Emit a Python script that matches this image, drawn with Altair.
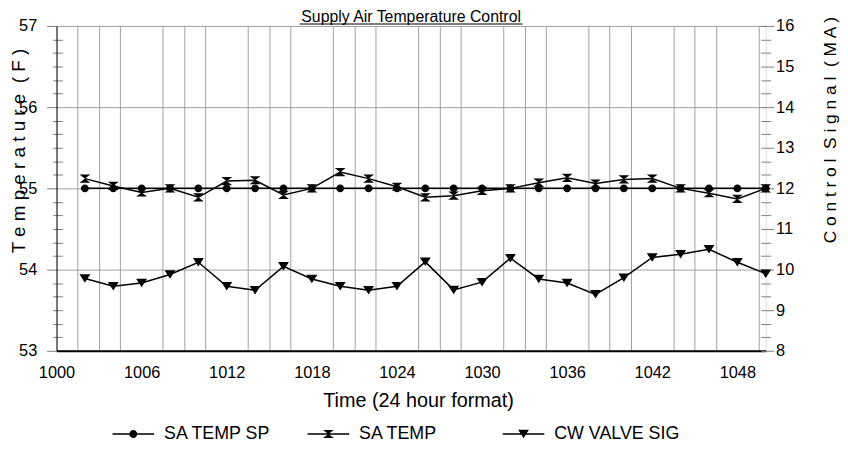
import altair as alt
import pandas as pd

FONT = "Liberation Sans"

# ---- data ----
times = [1002, 1004, 1006, 1008, 1010, 1012, 1014, 1016, 1018, 1020, 1022, 1024, 1026,
         1028, 1030, 1032, 1034, 1036, 1038, 1040, 1042, 1044, 1046, 1048, 1050]
sa_temp_sp = [55.0, 55.0, 55.0, 55.0, 55.0, 55.0, 55.0, 55.0, 55.0, 55.0, 55.0, 55.0, 55.0,
              55.0, 55.0, 55.0, 55.0, 55.0, 55.0, 55.0, 55.0, 55.0, 55.0, 55.0, 55.0]
sa_temp = [55.12, 55.03, 54.95, 55.0, 54.89, 55.09, 55.10, 54.92, 55.0, 55.20, 55.12, 55.02, 54.89,
           54.91, 54.97, 55.0, 55.07, 55.13, 55.06, 55.11, 55.12, 55.0, 54.94, 54.87, 55.0]
cw_valve_sig = [9.78, 9.59, 9.67, 9.88, 10.18, 9.59, 9.49, 10.08, 9.77, 9.59, 9.49, 9.59, 10.19,
                9.50, 9.69, 10.28, 9.77, 9.67, 9.39, 9.80, 10.30, 10.38, 10.50, 10.18, 9.90]
series_names = ["SA TEMP SP", "SA TEMP", "CW VALVE SIG"]
chart_title = "Supply Air Temperature Control"

x_label_ticks = [1000, 1006, 1012, 1018, 1024, 1030, 1036, 1042, 1048]
x_domain = [1000, 1050]
temp_ticks = [53, 54, 55, 56, 57]
signal_ticks = [8, 9, 10, 11, 12, 13, 14, 15, 16]

# ---- tables ----
sp_df = pd.DataFrame({"time": times, "value": sa_temp_sp, "series": series_names[0]})
sat_df = pd.DataFrame({"time": times, "value": sa_temp, "series": series_names[1]})
cw_df = pd.DataFrame({"time": times, "value": cw_valve_sig, "series": series_names[2]})
temp_df = pd.concat([sp_df, sat_df], ignore_index=True)
legend_df = pd.DataFrame({"series": series_names})

# tick / grid positions
x_values = sorted(set([1000 + 1.5 * k for k in range(0, 34)] + x_label_ticks))
temp_major_values = [53 + 0.5 * k for k in range(0, 9)]
temp_minor_values = [53 + k / 6 for k in range(0, 25) if k % 6 != 0]
sig_minor_values = [8 + k / 3 for k in range(0, 25) if k % 3 != 0]

# ---- marker shapes ----
CIRCLE = "M0.73,0A0.73,0.73,0,1,1,-0.73,0A0.73,0.73,0,1,1,0.73,0Z"
HOURGLASS = "M-1,-0.75L1,-0.75L-1,0.75L1,0.75Z"
TRIANGLE = "M-1,-0.78L1,-0.78L0,0.78Z"

LINE_SEG = "M-1,-0.036L1,-0.036L1,0.036L-1,0.036Z"
LEG_CIRCLE = LINE_SEG + "M0.19,0A0.19,0.19,0,1,1,-0.19,0A0.19,0.19,0,1,1,0.19,0Z"
LEG_HOUR = LINE_SEG + "M-0.26,-0.19L0.26,-0.19L0,0ZM0,0L0.26,0.19L-0.26,0.19Z"
LEG_TRI = LINE_SEG + "M-0.26,-0.2L0.26,-0.2L0,0.2Z"

legend = alt.Legend(
    title=None, orient="none", legendX=55.5, legendY=390, direction="horizontal",
    columns=3, gridAlign="all", columnPadding=15, padding=0, symbolSize=1764,
    labelOffset=9, labelFont=FONT, labelFontSize=18, labelColor="black",
    symbolFillColor="black", symbolStrokeColor="black", symbolOpacity=1,
)

# ---- axes ----
x_axis = alt.Axis(
    values=x_values, format="d", title="Time (24 hour format)",
    labelExpr="(datum.value - 1000) % 6 === 0 ? datum.label : ''",
    labelFlush=False, labelOverlap=False, labelPadding=14, ticks=False,
    labelFont=FONT, labelFontSize=16.5, labelColor="black",
    domainColor="black", domainWidth=2,
    grid=True, gridColor="#a0a0a0", gridWidth=1,
    gridOpacity={"condition": {"test": "(datum.value - 1000) % 6 === 0", "value": 0}, "value": 1},
    titleFont=FONT, titleFontSize=20, titleFontWeight="normal", titleColor="black",
    titleX=365, titleY=56, titleBaseline="alphabetic", titleAlign="center",
)
X = alt.X("time:Q", scale=alt.Scale(domain=x_domain, nice=False, zero=False), axis=x_axis)

temp_scale = alt.Scale(domain=[temp_ticks[0], temp_ticks[-1]], nice=False, zero=False)
sig_scale = alt.Scale(domain=[signal_ticks[0], signal_ticks[-1]], nice=False, zero=False)

left_main = alt.Axis(
    orient="left", values=temp_major_values, format="d",
    labelExpr="datum.value % 1 === 0 ? datum.label : ''",
    tickSize=10, tickColor="#808080",
    tickOpacity={"condition": {"test": "datum.value % 1 !== 0", "value": 0}, "value": 1},
    labelPadding=10, labelFont=FONT, labelFontSize=16.5, labelColor="black",
    domainColor="black", domainWidth=1,
    grid=True, gridWidth=1,
    gridColor={"condition": {"test": "datum.value % 1 !== 0", "value": "#c8c8c8"}, "value": "#a0a0a0"},
    gridDash={"condition": {"test": "datum.value % 1 !== 0", "value": [2, 2]}, "value": []},
    title="T e m p e r a t u r e \u00a0( F )", titleFont=FONT, titleFontSize=19,
    titleFontWeight="normal", titleColor="black", titleAngle=270, titleAlign="left",
    titleBaseline="alphabetic", titleX=-32, titleY=229,
)
left_minor = alt.Axis(
    orient="left", values=temp_minor_values, labels=False, domain=False, grid=False,
    offset=-6, tickSize=10, tickColor="#808080", title=None,
)
right_main = alt.Axis(
    orient="right", values=signal_ticks, format="d", offset=-5, tickSize=13,
    tickColor="#808080", labelPadding=2, labelFont=FONT, labelFontSize=16.5, labelColor="black",
    domain=False, grid=False,
    title="C o n t r o l \u00a0S i g n a l \u00a0( M A )", titleFont=FONT, titleFontSize=17.5,
    titleFontWeight="normal", titleColor="black", titleAngle=270, titleAlign="left",
    titleBaseline="alphabetic", titleX=75, titleY=219,
)
right_minor = alt.Axis(
    orient="right", values=sig_minor_values, labels=False, domain=False, grid=False,
    offset=-5, tickSize=10, tickColor="#808080", title=None,
)

# ---- layers ----
TY = alt.Y("value:Q", scale=temp_scale, axis=left_main)
SY = alt.Y("value:Q", scale=sig_scale, axis=right_main)

temp_line = alt.Chart(temp_df).mark_line(color="black", strokeWidth=1.5).encode(
    x=X, y=TY, detail="series:N")
sp_pts = alt.Chart(sp_df).mark_point(shape=CIRCLE, filled=True, color="black", opacity=1, size=121).encode(x=X, y=TY)
sat_pts = alt.Chart(sat_df).mark_point(shape=HOURGLASS, filled=True, color="black", opacity=1, size=121).encode(x=X, y=TY)
temp_layer = alt.layer(temp_line, sp_pts, sat_pts)

temp_minor = alt.Chart(temp_df).mark_point(opacity=0).encode(
    x=X, y=alt.Y("value:Q", scale=temp_scale, axis=left_minor))

cw_line = alt.Chart(cw_df).mark_line(color="black", strokeWidth=1.5).encode(x=X, y=SY)
cw_pts = alt.Chart(cw_df).mark_point(shape=TRIANGLE, filled=True, color="black", opacity=1, size=121).encode(x=X, y=SY)
cw_layer = alt.layer(cw_line, cw_pts)

cw_minor = alt.Chart(cw_df).mark_point(opacity=0).encode(
    x=X, y=alt.Y("value:Q", scale=sig_scale, axis=right_minor))

legend_layer = alt.Chart(legend_df).transform_filter("false").mark_point(
    filled=True, color="black", opacity=1
).encode(shape=alt.Shape("series:N", scale=alt.Scale(domain=series_names,
                                                      range=[LEG_CIRCLE, LEG_HOUR, LEG_TRI]),
                         legend=legend))

# title (underlined, as in the reference)
title_text = alt.Chart(alt.Data(values=[{"t": chart_title}])).mark_text(
    font=FONT, fontSize=16, baseline="alphabetic", align="center", color="black"
).encode(text="t:N", x=alt.value(358), y=alt.value(-4))
underline = alt.Chart(alt.Data(values=[{"u": 1}])).mark_rule(color="black", strokeWidth=1.1).encode(
    x=alt.value(245.5), x2=alt.value(470.5), y=alt.value(-2))

chart = alt.layer(
    temp_minor, cw_minor, temp_layer, cw_layer, legend_layer, title_text, underline
).resolve_scale(y="independent").properties(
    width=716, height=328,
    padding={"left": 49, "top": 16, "right": 75, "bottom": 93},
    autosize=alt.AutoSizeParams(type="none"),
).configure_view(stroke="black", strokeWidth=1.2).configure(background="white")

chart.save("out.html", embed_options={"renderer": "svg", "actions": False})
